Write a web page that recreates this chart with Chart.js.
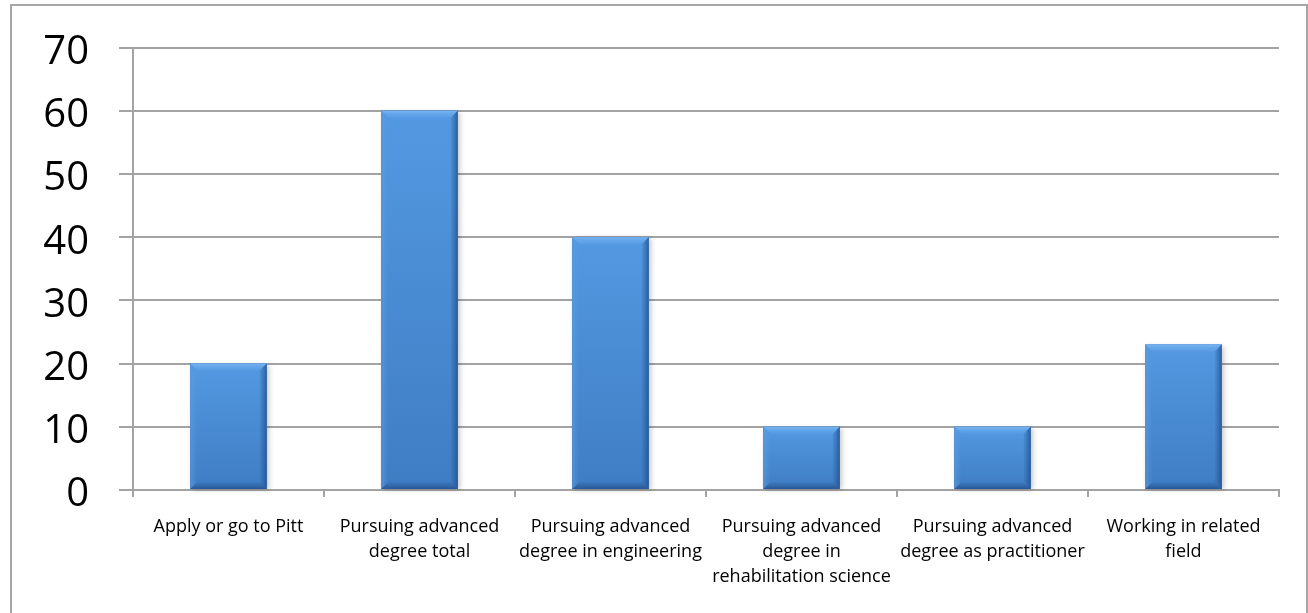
<!DOCTYPE html>
<html>
<head>
<meta charset="utf-8">
<script src="https://cdn.jsdelivr.net/npm/chart.js@4/dist/chart.umd.min.js"></script>
<style>
  html, body { margin: 0; padding: 0; background: #fff; overflow: hidden; }
  #frame {
    position: absolute; left: 10px; top: 4px; width: 1294px; height: 700px;
    border: 2px solid #a6a6a6; box-sizing: content-box;
  }
  #wrap { position: absolute; left: 0; top: 0; width: 1308px; height: 613px; }
</style>
</head>
<body>
<div id="frame"></div>
<div id="wrap"><canvas id="chart" width="1308" height="613"></canvas></div>
<script>
// Categories (multi-line labels as drawn under the axis)
const categories = [
  'Apply or go to Pitt',
  ['Pursuing advanced', 'degree total'],
  ['Pursuing advanced', 'degree in engineering'],
  ['Pursuing advanced', 'degree in', 'rehabilitation science'],
  ['Pursuing advanced', 'degree as practitioner'],
  ['Working in related', 'field']
];

// Percentages per category
const values = [20, 60, 40, 10, 10, 23];

// Y axis range
const yMin = 0;
const yMax = 70;
const yStep = 10;

// Bevelled, gradient-filled bars in the classic office style
const bevelBars = {
  id: 'bevelBars',
  afterDatasetsDraw(chart) {
    const ctx = chart.ctx;
    const meta = chart.getDatasetMeta(0);
    meta.data.forEach(bar => {
      const p = bar.getProps(['x', 'y', 'base', 'width'], true);
      const l = p.x - p.width / 2, r = p.x + p.width / 2;
      const t = Math.min(p.y, p.base), b = Math.max(p.y, p.base);
      const h = b - t, w = r - l;
      const e = Math.min(7, h / 3, w / 4);
      ctx.save();

      // soft shadow on the right
      ctx.shadowColor = 'rgba(0,0,0,0.22)';
      ctx.shadowBlur = 5;
      ctx.shadowOffsetX = 2;
      ctx.shadowOffsetY = 1;
      ctx.fillStyle = '#3f7cc3';
      ctx.fillRect(l, t, w, h);
      ctx.shadowColor = 'transparent';

      // body gradient, lighter at top
      const g = ctx.createLinearGradient(0, t, 0, b);
      g.addColorStop(0, '#5399e2');
      g.addColorStop(1, '#3f7dc3');
      ctx.fillStyle = g;
      ctx.fillRect(l, t, w, h);

      // top bevel
      const gt = ctx.createLinearGradient(0, t, 0, t + e);
      gt.addColorStop(0, 'rgba(125,185,245,0.85)');
      gt.addColorStop(1, 'rgba(100,165,235,0.3)');
      ctx.fillStyle = gt;
      ctx.beginPath();
      ctx.moveTo(l, t); ctx.lineTo(r, t); ctx.lineTo(r - e, t + e); ctx.lineTo(l + e, t + e);
      ctx.closePath(); ctx.fill();

      // left bevel
      const gl = ctx.createLinearGradient(l, 0, l + e, 0);
      gl.addColorStop(0, 'rgba(95,155,220,0.6)');
      gl.addColorStop(1, 'rgba(95,155,220,0.0)');
      ctx.fillStyle = gl;
      ctx.beginPath();
      ctx.moveTo(l, t); ctx.lineTo(l + e, t + e); ctx.lineTo(l + e, b - e); ctx.lineTo(l, b);
      ctx.closePath(); ctx.fill();

      // right bevel (shaded)
      const gr = ctx.createLinearGradient(r - e, 0, r, 0);
      gr.addColorStop(0, 'rgba(35,85,150,0.1)');
      gr.addColorStop(1, 'rgba(30,75,135,0.75)');
      ctx.fillStyle = gr;
      ctx.beginPath();
      ctx.moveTo(r, t); ctx.lineTo(r, b); ctx.lineTo(r - e, b - e); ctx.lineTo(r - e, t + e);
      ctx.closePath(); ctx.fill();

      // bottom bevel (shaded)
      const gb = ctx.createLinearGradient(0, b - e, 0, b);
      gb.addColorStop(0, 'rgba(35,80,140,0.1)');
      gb.addColorStop(1, 'rgba(30,70,130,0.7)');
      ctx.fillStyle = gb;
      ctx.beginPath();
      ctx.moveTo(l, b); ctx.lineTo(r, b); ctx.lineTo(r - e, b - e); ctx.lineTo(l + e, b - e);
      ctx.closePath(); ctx.fill();

      ctx.restore();
    });
  }
};

const gridColor = '#a3a3a3';

new Chart(document.getElementById('chart'), {
  type: 'bar',
  data: {
    labels: categories,
    datasets: [{
      data: values,
      backgroundColor: '#4585cc',
      borderWidth: 0,
      categoryPercentage: 0.8,
      barPercentage: 0.5
    }]
  },
  options: {
    responsive: false,
    animation: false,
    events: [],
    layout: { padding: { top: 47.5, right: 29, bottom: 0, left: 0 } },
    plugins: {
      legend: { display: false },
      tooltip: { enabled: false }
    },
    scales: {
      x: {
        afterFit(scale) { scale.height = 123; },
        grid: {
          drawOnChartArea: false,
          drawTicks: true,
          tickLength: 7,
          color: gridColor,
          lineWidth: 2
        },
        border: { display: true, color: gridColor, width: 2 },
        ticks: {
          color: '#000',
          padding: 17,
          maxRotation: 0,
          autoSkip: false,
          font: { family: '"Open Sans"', size: 18, lineHeight: 1.4 }
        }
      },
      y: {
        min: yMin,
        max: yMax,
        afterFit(scale) {
          scale.width = 133;
          scale.paddingTop = 0;
          scale.paddingBottom = 0;
        },
        grid: {
          drawOnChartArea: true,
          drawTicks: true,
          tickLength: 14,
          color: gridColor,
          lineWidth: 2
        },
        border: { display: true, color: gridColor, width: 2 },
        ticks: {
          stepSize: yStep,
          color: '#000',
          padding: 30,
          labelOffset: 5,
          font: { family: '"Open Sans"', size: 40, lineHeight: 1.2 }
        }
      }
    }
  },
  plugins: [bevelBars]
});
</script>
</body>
</html>
